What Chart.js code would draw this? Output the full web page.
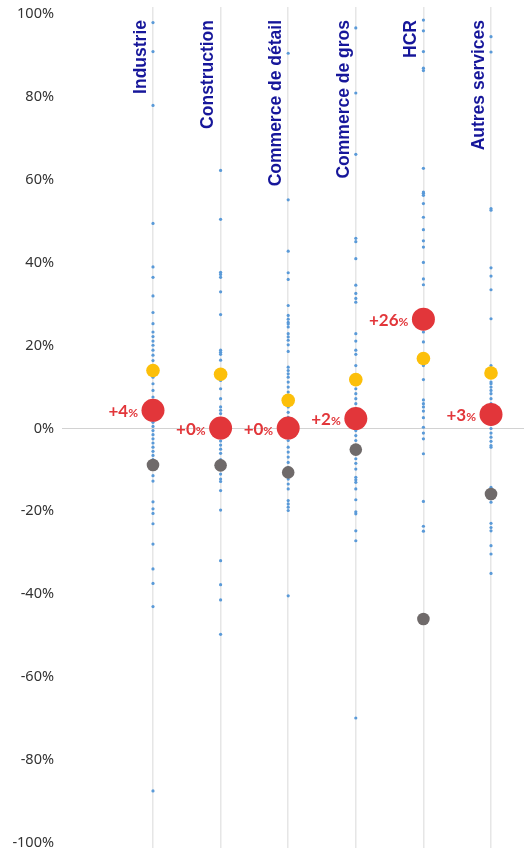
<!DOCTYPE html>
<html>
<head>
<meta charset="utf-8">
<script src="https://cdn.jsdelivr.net/npm/chart.js@4/dist/chart.umd.min.js"></script>
<style>
  html, body { margin: 0; padding: 0; background: #ffffff; overflow: hidden; }
  #wrap { position: relative; width: 524px; height: 848px; }
  canvas { display: block; }
</style>
</head>
<body>
<div id="wrap"><canvas id="c"></canvas></div>
<script>
// ---- data ----
const categories = ["Industrie", "Construction", "Commerce de détail", "Commerce de gros", "HCR", "Autres services"];

const industrie = [98, 91, 78, 49.5, 39, 36.5, 32, 28, 25.3, 23.3, 22.2, 21.1, 20.1, 18.9, 17.7, 16.4, 15.2, 13.5, 12.4, 10.8, 9.2, 7.6, 6, 2.7, 1.5, 0.5, -0.5, -1.5, -2.5, -3.5, -4.5, -5.5, -6.5, -7.5, -9.5, -11.4, -12.7, -17.7, -19.4, -20.5, -23, -27.9, -33.9, -37.4, -43, -87.5];
const construction = [62.3, 50.5, 37.7, 37.2, 36.5, 33, 27.5, 18.9, 18.4, 17.9, 16.5, 11.6, 9.6, 7.2, 5.2, 4.4, 3.6, 1.5, -1, -2, -3, -4, -5, -6, -7.5, -11, -12.2, -12.8, -15, -19.7, -31.9, -37.7, -41.4, -49.7];
const commerceDetail = [90.6, 55.2, 42.8, 37.6, 36, 29.7, 27.3, 26.4, 25.6, 25.2, 24.5, 22.9, 22.1, 21.3, 20.2, 18.6, 14.8, 14, 13.2, 12.4, 11.2, 10, 8.8, 5.2, 3.9, 2.7, 1, -1.5, -2.9, -4.5, -5.7, -6.9, -8.2, -9.4, -12.2, -13.4, -14.6, -17.4, -18.2, -19, -19.8, -40.4];
const commerceGros = [96.7, 81, 66.2, 45.9, 45.1, 41, 34.6, 32.6, 31.4, 30.5, 22.9, 21.1, 18.9, 17.9, 15.2, 9.6, 8.4, 7.2, 6, 4.8, 1, -0.5, -1.7, -2.9, -7.3, -8.4, -9.8, -11.8, -12.4, -13, -14.6, -17.2, -20.1, -20.6, -24.7, -27.1, -69.9];
const hcr = [98.6, 96, 91, 87, 86.4, 62.8, 57.1, 56.8, 56.3, 54.3, 51, 48, 45.3, 43.8, 40.1, 36.1, 34.7, 23.3, 20.9, 15.2, 11.8, 6.9, 6, 5.2, 4.2, 2.6, 0.3, -1.1, -2.5, -6.1, -17.6, -23.6, -24.8];
const autresServices = [94.6, 90.9, 53.1, 52.7, 38.8, 36.8, 33.5, 26.5, 15.2, 11.2, 10.8, 10, 9.2, 8.4, 7.2, 6, 5.2, 1, 0, -1.1, -2.1, -3.1, -4.1, -4.5, -14.2, -17.8, -22.9, -23.9, -24.7, -28.3, -30.3, -35];

const yellowValues = [14, 13.1, 6.8, 11.8, 16.9, 13.4];
const grayValues = [-8.8, -8.9, -10.6, -5.1, -46, -15.8];
const redValues = [4.4, 0.1, 0.1, 2.4, 26.4, 3.4];

const yTicks = [-100, -80, -60, -40, -20, 0, 20, 40, 60, 80, 100];

// ---- build datasets ----
const blueSeries = [industrie, construction, commerceDetail, commerceGros, hcr, autresServices];
const bluePoints = [];
blueSeries.forEach((arr, i) => arr.forEach(v => bluePoints.push({x: i, y: v})));
const toPts = arr => arr.map((v, i) => ({x: i, y: v}));

const redLabelPlugin = {
  id: 'redLabels',
  afterDatasetsDraw(chart) {
    const meta = chart.getDatasetMeta(0);
    const ctx = chart.ctx;
    ctx.save();
    ctx.fillStyle = '#e2363a';
    ctx.textBaseline = 'alphabetic';
    meta.data.forEach((pt, i) => {
      const v = redValues[i];
      const num = (v >= 0 ? '+' : '') + Math.round(v);
      const right = pt.x - 15;
      ctx.font = 'bold 12px Lato';
      const pw = ctx.measureText('%').width;
      ctx.textAlign = 'right';
      ctx.fillText('%', right, pt.y + 6.5);
      ctx.font = 'bold 17px Lato';
      ctx.fillText(num, right - pw, pt.y + 6.5);
    });
    ctx.restore();
  }
};

const catLabelPlugin = {
  id: 'catLabels',
  afterDraw(chart) {
    const ctx = chart.ctx;
    const xs = chart.scales.x;
    ctx.save();
    ctx.fillStyle = '#16169a';
    ctx.font = 'bold 17.5px "Liberation Sans", Arial, sans-serif';
    ctx.textAlign = 'right';
    ctx.textBaseline = 'middle';
    categories.forEach((c, i) => {
      const x = xs.getPixelForValue(i) - 12;
      const y = chart.chartArea.top + 13;
      ctx.save();
      ctx.translate(x, y);
      ctx.rotate(-Math.PI / 2);
      ctx.fillText(c, 0, 0);
      ctx.restore();
    });
    ctx.restore();
  }
};

new Chart(document.getElementById('c'), {
  type: 'scatter',
  data: {
    datasets: [
      { data: toPts(redValues), backgroundColor: '#e2363a', borderWidth: 0, pointRadius: 11.5, pointHoverRadius: 11.5, order: 0 },
      { data: toPts(yellowValues), backgroundColor: '#fcbf0a', borderWidth: 0, pointRadius: 6.8, pointHoverRadius: 6.8, order: 1 },
      { data: toPts(grayValues), backgroundColor: '#6f6a6a', borderWidth: 0, pointRadius: 6.3, pointHoverRadius: 6.3, order: 2 },
      { data: bluePoints, backgroundColor: '#5a9ad8', borderWidth: 0, pointRadius: 1.6, pointHoverRadius: 1.6, order: 3 }
    ]
  },
  options: {
    responsive: true,
    maintainAspectRatio: false,
    animation: false,
    events: [],
    layout: { autoPadding: false, padding: { top: 7, right: 0, bottom: 0, left: 0 } },
    plugins: { legend: { display: false }, tooltip: { enabled: false } },
    scales: {
      x: {
        type: 'linear',
        min: -1.346,
        max: 5.488,
        afterBuildTicks: s => { s.ticks = categories.map((c, i) => ({ value: i })); },
        afterFit: s => { s.height = 0; s.paddingLeft = 0; s.paddingRight = 0; },
        ticks: { display: false },
        grid: { color: '#e6e6e6', lineWidth: 1.5, drawTicks: false },
        border: { display: false }
      },
      y: {
        type: 'linear',
        min: -101.28,
        max: 101.76,
        afterBuildTicks: s => { s.ticks = yTicks.map(v => ({ value: v })); },
        afterFit: s => { s.width = 62; s.paddingTop = 0; s.paddingBottom = 0; },
        ticks: {
          padding: 8,
          color: '#333333',
          font: { family: '"Noto Sans", sans-serif', size: 14.5 },
          callback: v => v + '%'
        },
        grid: {
          drawTicks: false,
          color: c => (c.tick && c.tick.value === 0) ? '#d2d2d2' : 'rgba(0,0,0,0)',
          lineWidth: 1
        },
        border: { display: false }
      }
    }
  },
  plugins: [redLabelPlugin, catLabelPlugin]
});
</script>
</body>
</html>
